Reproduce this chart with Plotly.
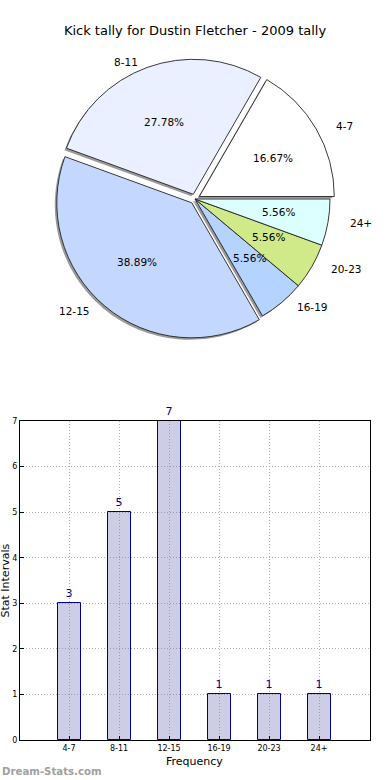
import math
import plotly.graph_objects as go

# ---- data ----
categories = ["4-7", "8-11", "12-15", "16-19", "20-23", "24+"]
counts = [3, 5, 7, 1, 1, 1]
slice_colors = ["#ffffff", "#eaf0ff", "#c4d8ff", "#b4d4ff", "#d0ea8a", "#dcffff"]
pulls = [0.037, 0.037, 0.037, 0.0, 0.0, 0.0]
title_text = "Kick tally for Dustin Fletcher - 2009 tally"
y_ticks = [0, 1, 2, 3, 4, 5, 6, 7]

W, H = 390, 780
FONT = "DejaVu Sans"

# pie geometry (pixels)
cx_px, cy_px, r_px = 195.0, 199.0, 135.0
# label placement radii (the reference pie is slightly wider than tall)
lab_rx, lab_ry = 141.0, 128.0
max_pull = max(pulls)
half_box = r_px * (1 + max_pull)
total = sum(counts)
# plotly (counterclockwise) ends the first slice at the rotation point;
# we want the first slice to start at 3 o'clock.
first_end_deg = 360.0 * counts[0] / total
rotation = 90.0 - first_end_deg


def dom_x(c, shift=0.0):
    return [(c - half_box + shift) / W, (c + half_box + shift) / W]


def dom_y(c, shift=0.0):
    yc = 1 - (c + shift) / H
    return [yc - half_box / H, yc + half_box / H]


fig = go.Figure()

# shadow pie
fig.add_trace(go.Pie(
    labels=categories, values=counts, sort=False, direction="counterclockwise",
    rotation=rotation, pull=pulls, textinfo="none", hoverinfo="skip",
    marker=dict(colors=["#9a9a9a"] * len(counts), line=dict(width=0)),
    domain=dict(x=dom_x(cx_px, -2), y=dom_y(cy_px, 2)), showlegend=False,
))
# main pie
fig.add_trace(go.Pie(
    labels=categories, values=counts, sort=False, direction="counterclockwise",
    rotation=rotation, pull=pulls, textinfo="none",
    marker=dict(colors=slice_colors, line=dict(color="#222222", width=0.9)),
    domain=dict(x=dom_x(cx_px), y=dom_y(cy_px)), showlegend=False,
))

# pie labels computed from the data
ann = []
start = 0.0
for cat, v, p in zip(categories, counts, pulls):
    span = 360.0 * v / total
    mid = math.radians(start + span / 2)
    start += span
    ox = cx_px + p * r_px * math.cos(mid)
    oy = cy_px - p * r_px * math.sin(mid)
    px = ox + 0.6 * lab_rx * math.cos(mid)
    py = oy - 0.6 * lab_ry * math.sin(mid)
    ann.append(dict(x=px / W, y=1 - py / H, xref="paper", yref="paper",
                    xanchor="center", yanchor="middle",
                    text=f"{100 * v / total:.2f}%", showarrow=False,
                    font=dict(family=FONT, size=10.5, color="black")))
    lx = ox + 1.1 * lab_rx * math.cos(mid)
    ly = oy - 1.1 * lab_ry * math.sin(mid)
    ann.append(dict(x=lx / W, y=1 - ly / H, xref="paper", yref="paper",
                    text=cat, showarrow=False, yanchor="middle",
                    xanchor="left" if math.cos(mid) > 0 else "right",
                    font=dict(family=FONT, size=10.5, color="black")))

# bar chart
fig.add_trace(go.Bar(
    x=categories, y=counts, width=0.46,
    marker=dict(color="rgba(130,130,190,0.4)", line=dict(color="#00008b", width=1)),
    text=[str(c) for c in counts], textposition="outside", cliponaxis=False,
    textfont=dict(family=FONT, size=11, color="#00008b"),
    xaxis="x", yaxis="y", showlegend=False,
))

ax_left, ax_right, ax_top, ax_bottom = 20, 370, 421, 740

ann.append(dict(x=5 / W, y=1 - (ax_top + ax_bottom) / 2 / H, xref="paper", yref="paper",
                xanchor="center", yanchor="middle",
                text="Stat Intervals", textangle=-90, showarrow=False,
                font=dict(family=FONT, size=11, color="black")))
ann.append(dict(x=194 / W, y=1 - 761 / H, xref="paper", yref="paper",
                xanchor="center", yanchor="middle",
                text="Frequency", showarrow=False,
                font=dict(family=FONT, size=11, color="black")))
ann.append(dict(x=0, y=1 - 771 / H, xref="paper", yref="paper", xanchor="left",
                yanchor="middle",
                text="<b>Dream-Stats.com</b>", showarrow=False,
                font=dict(family=FONT, size=10.2, color="#a0a0a0")))

grid_dash = "1px,2px"
fig.update_layout(
    width=W, height=H, margin=dict(l=0, r=0, t=0, b=0),
    paper_bgcolor="white", plot_bgcolor="white",
    title=dict(text=title_text, x=0.5, xanchor="center", y=1 - 30 / H, yanchor="middle",
               font=dict(family=FONT, size=13, color="black")),
    annotations=ann,
    bargap=0,
    xaxis=dict(domain=[ax_left / W, ax_right / W], range=[-0.98, 6.02], automargin=False,
               showline=True, linecolor="black", linewidth=1, mirror=True,
               showgrid=True, gridcolor="#b0b0b0", griddash=grid_dash, gridwidth=1,
               ticks="inside", ticklen=4, tickcolor="black",
               tickfont=dict(family=FONT, size=8, color="black"), fixedrange=True),
    yaxis=dict(domain=[1 - ax_bottom / H, 1 - ax_top / H], range=[0, 7], automargin=False,
               tickvals=y_ticks, showline=True, linecolor="black", linewidth=1, mirror=True,
               showgrid=True, gridcolor="#b0b0b0", griddash=grid_dash, gridwidth=1,
               zeroline=False, ticks="inside", ticklen=4, tickcolor="black",
               tickfont=dict(family=FONT, size=8, color="black"), fixedrange=True),
    font=dict(family=FONT),
)

fig.write_html(
    "out.html",
    config={"displayModeBar": False},
    post_script="document.body.style.margin='0';document.body.style.overflow='hidden';",
)
